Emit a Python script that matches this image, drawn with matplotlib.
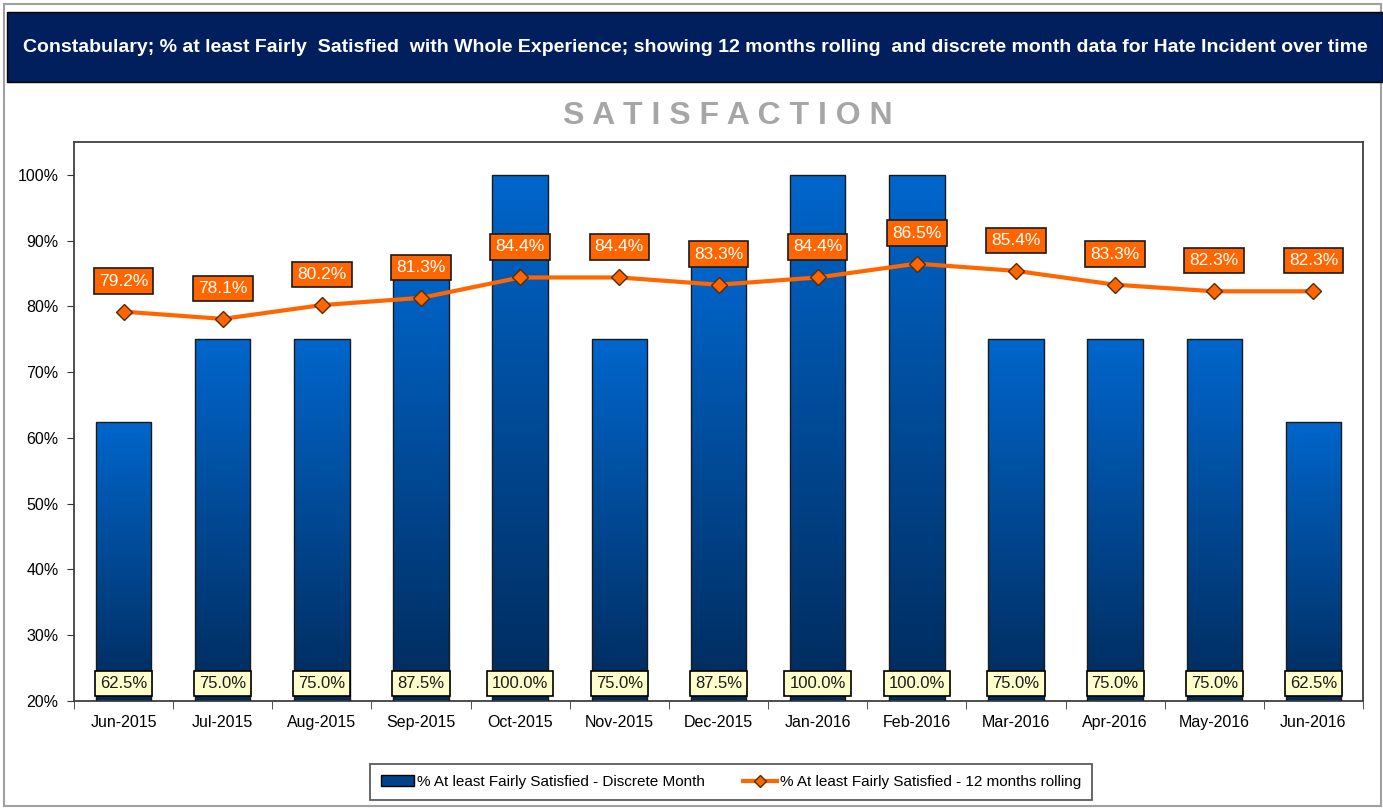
import matplotlib
matplotlib.use('Agg')
import matplotlib.pyplot as plt
import numpy as np
from matplotlib.patches import Rectangle
from matplotlib.lines import Line2D

plt.rcParams['font.family'] = ['Liberation Sans', 'DejaVu Sans']

# data
months = ['Jun-2015', 'Jul-2015', 'Aug-2015', 'Sep-2015', 'Oct-2015', 'Nov-2015', 'Dec-2015',
          'Jan-2016', 'Feb-2016', 'Mar-2016', 'Apr-2016', 'May-2016', 'Jun-2016']
discrete = [62.5, 75.0, 75.0, 87.5, 100.0, 75.0, 87.5, 100.0, 100.0, 75.0, 75.0, 75.0, 62.5]
rolling = [79.2, 78.1, 80.2, 81.3, 84.4, 84.4, 83.3, 84.4, 86.5, 85.4, 83.3, 82.3, 82.3]
yticks = [20, 30, 40, 50, 60, 70, 80, 90, 100]

W, H = 1383, 809
fig = plt.figure(figsize=(W / 100, H / 100), dpi=100)
fig.patch.set_facecolor('white')

# outer frame
fig.add_artist(Rectangle((4 / W, 3 / H), (W - 6) / W, (H - 7) / H, transform=fig.transFigure,
                         fill=False, edgecolor='#a0a0a0', linewidth=1.5))
# header banner
fig.add_artist(Rectangle((7 / W, 1 - 82 / H), (W - 7) / W, 70 / H, transform=fig.transFigure,
                         facecolor='#001f5c', edgecolor='black', linewidth=1))
fig.text(695 / W, 1 - 47 / H,
         'Constabulary; % at least Fairly  Satisfied  with Whole Experience; showing 12 months rolling  and discrete month data for Hate Incident over time',
         color='white', fontsize=14, fontweight='bold', ha='center', va='center')
fig.text(728 / W, 1 - 116 / H, 'S A T I S F A C T I O N', color='#a6a6a6', fontsize=23,
         fontweight='bold', ha='center', va='center')

ax = fig.add_axes([74 / W, (H - 701) / H, (1363 - 74) / W, (701 - 142) / H])
x = np.arange(len(months))
ymin, ymax = 20, 105
ax.set_xlim(-0.5, len(months) - 0.5)
ax.set_ylim(ymin, ymax)

# gradient bars
grad = np.linspace(1, 0, 256).reshape(-1, 1)
cmap = matplotlib.colors.LinearSegmentedColormap.from_list('bl', ['#002a5a', '#0066cc'])
bw = 0.56
bars = ax.bar(x, np.array(discrete) - ymin, bottom=ymin, width=bw, color='none',
              edgecolor='#1a1a1a', linewidth=1, zorder=3)
for b in bars:
    x0, y0 = b.get_x(), b.get_y()
    im = ax.imshow(grad[::-1], extent=[x0, x0 + b.get_width(), y0, y0 + b.get_height()],
                   aspect='auto', cmap=cmap, vmin=0, vmax=1, origin='lower', zorder=2)
    im.set_clip_path(b)

# bar labels
for xi, v in zip(x, discrete):
    ax.text(xi, 22.7, f'{v:.1f}%', ha='center', va='center', fontsize=12, color='#1a1a1a',
            zorder=6, bbox=dict(boxstyle='square,pad=0.3', facecolor='#ffffcc',
                                edgecolor='black', linewidth=1.2))

# rolling line
ax.plot(x, rolling, color='#ff6600', linewidth=3, zorder=4)
ax.plot(x, rolling, linestyle='none', marker='D', markersize=8, markerfacecolor='#ff6600',
        markeredgecolor='#5a2a00', markeredgewidth=1, zorder=5)
for xi, v in zip(x, rolling):
    ax.annotate(f'{v:.1f}%', (xi, v), xytext=(0, 22), textcoords='offset points',
                ha='center', va='center', fontsize=12.5, color='white', zorder=7,
                bbox=dict(boxstyle='square,pad=0.3', facecolor='#ff6600',
                          edgecolor='#1a1a1a', linewidth=1.2))

ax.set_yticks(yticks)
ax.set_yticklabels([f'{t}%' for t in yticks], fontsize=11.5)
ax.set_xticks(x)
ax.set_xticklabels(months, fontsize=11.5)
ax.set_xticks(np.arange(len(months) + 1) - 0.5, minor=True)
ax.tick_params(axis='x', which='major', length=0, pad=10)
ax.tick_params(axis='x', which='minor', length=6, direction='out', color='#333333')
ax.tick_params(axis='y', length=5, direction='out', color='#333333', pad=6)
for s in ax.spines.values():
    s.set_color('#404040')
    s.set_linewidth(1.3)

# legend
handles = [Rectangle((0, 0), 1, 1, facecolor='#00428a', edgecolor='black'),
           Line2D([0], [0], color='#ff6600', linewidth=3, marker='D', markersize=6,
                  markerfacecolor='#ff6600', markeredgecolor='#5a2a00')]
leg = fig.legend(handles, ['% At least Fairly Satisfied - Discrete Month',
                           '% At least Fairly Satisfied - 12 months rolling'],
                 loc='center', bbox_to_anchor=(731 / W, 1 - 782 / H), ncol=2, fontsize=11,
                 frameon=True, fancybox=False, handlelength=2.2, handletextpad=0.2,
                 columnspacing=2.5, borderpad=0.7)
leg.get_frame().set_edgecolor('#333333')
leg.get_frame().set_linewidth(1.3)

fig.savefig('out.png', dpi=100)
